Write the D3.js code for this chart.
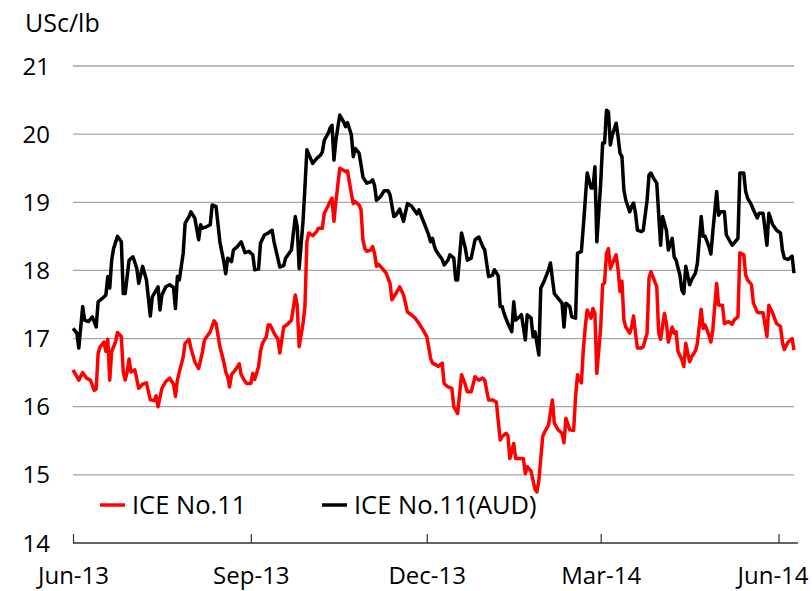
<!DOCTYPE html>
<html>
<head>
<meta charset="utf-8">
<script src="https://cdnjs.cloudflare.com/ajax/libs/d3/7.8.5/d3.min.js"></script>
<style>
  body { margin: 0; background: #fff; }
  svg { font-family: 'Open Sans', sans-serif; }
</style>
</head>
<body>
<div id="chart"></div>
<script>
// ICE No.11 in AUD terms (black)
const audDates = ['2013-06-01','2013-06-03','2013-06-04','2013-06-06','2013-06-07','2013-06-09','2013-06-11','2013-06-13','2013-06-14','2013-06-17','2013-06-18','2013-06-19','2013-06-20','2013-06-21','2013-06-22','2013-06-24','2013-06-26','2013-06-27','2013-06-28','2013-06-30',
  '2013-07-02','2013-07-04','2013-07-05','2013-07-07','2013-07-09','2013-07-11','2013-07-12','2013-07-15','2013-07-16','2013-07-17','2013-07-19','2013-07-21','2013-07-23','2013-07-24','2013-07-25','2013-07-26','2013-07-28','2013-07-29','2013-07-31',
  '2013-08-01','2013-08-03','2013-08-05','2013-08-06','2013-08-07','2013-08-09','2013-08-11','2013-08-12','2013-08-14','2013-08-16','2013-08-18','2013-08-19','2013-08-20','2013-08-22','2013-08-23','2013-08-25','2013-08-27','2013-08-29','2013-08-31',
  '2013-09-02','2013-09-03','2013-09-05','2013-09-06','2013-09-08','2013-09-10','2013-09-12','2013-09-13','2013-09-16','2013-09-18','2013-09-19','2013-09-22','2013-09-24','2013-09-25','2013-09-26','2013-09-28','2013-09-29','2013-09-30',
  '2013-10-03','2013-10-05','2013-10-07','2013-10-08','2013-10-09','2013-10-11','2013-10-12','2013-10-13','2013-10-14','2013-10-15','2013-10-17','2013-10-19','2013-10-20','2013-10-21','2013-10-23','2013-10-24','2013-10-25','2013-10-27','2013-10-28','2013-10-29','2013-10-31',
  '2013-11-02','2013-11-03','2013-11-04','2013-11-05','2013-11-07','2013-11-09','2013-11-11','2013-11-12','2013-11-14','2013-11-15','2013-11-17','2013-11-19','2013-11-21','2013-11-23','2013-11-24','2013-11-26','2013-11-27','2013-11-28','2013-11-30',
  '2013-12-02','2013-12-03','2013-12-04','2013-12-05','2013-12-06','2013-12-08','2013-12-09','2013-12-10','2013-12-12','2013-12-13','2013-12-15','2013-12-16','2013-12-17','2013-12-19','2013-12-21','2013-12-22','2013-12-24','2013-12-26','2013-12-28','2013-12-30','2013-12-31',
  '2014-01-02','2014-01-04','2014-01-05','2014-01-07','2014-01-08','2014-01-09','2014-01-10','2014-01-12','2014-01-14','2014-01-15','2014-01-16','2014-01-18','2014-01-19','2014-01-21','2014-01-22','2014-01-24','2014-01-25','2014-01-26','2014-01-28','2014-01-29','2014-01-31',
  '2014-02-02','2014-02-03','2014-02-05','2014-02-07','2014-02-09','2014-02-10','2014-02-11','2014-02-13','2014-02-14','2014-02-16','2014-02-17','2014-02-19','2014-02-20','2014-02-21','2014-02-22','2014-02-24','2014-02-25','2014-02-26','2014-02-27',
  '2014-03-01','2014-03-02','2014-03-03','2014-03-04','2014-03-05','2014-03-06','2014-03-07','2014-03-09','2014-03-10','2014-03-11','2014-03-12','2014-03-13','2014-03-14','2014-03-16','2014-03-17','2014-03-18','2014-03-19','2014-03-20','2014-03-22','2014-03-23','2014-03-25','2014-03-26','2014-03-27','2014-03-28','2014-03-30',
  '2014-04-01','2014-04-02','2014-04-04','2014-04-05','2014-04-07','2014-04-08','2014-04-09','2014-04-11','2014-04-12','2014-04-13','2014-04-14','2014-04-16','2014-04-17','2014-04-19','2014-04-20','2014-04-22','2014-04-23','2014-04-24','2014-04-26','2014-04-27','2014-04-28','2014-04-30',
  '2014-05-01','2014-05-02','2014-05-04','2014-05-05','2014-05-08','2014-05-09','2014-05-11','2014-05-12','2014-05-14','2014-05-15','2014-05-16','2014-05-18','2014-05-19','2014-05-21','2014-05-22','2014-05-24','2014-05-26','2014-05-27','2014-05-29','2014-05-31',
  '2014-06-02','2014-06-03','2014-06-04','2014-06-06','2014-06-08','2014-06-09'];
const audValues = [17.15,17.08,16.86,17.47,17.27,17.25,17.32,17.17,17.54,17.61,17.64,17.91,17.74,18.15,18.32,18.50,18.42,17.66,17.66,18.15,
  18.20,18.03,17.81,18.06,17.86,17.33,17.61,17.76,17.42,17.64,17.76,17.79,17.75,17.44,17.91,17.86,18.25,18.69,18.79,
  18.86,18.77,18.45,18.67,18.62,18.64,18.67,18.96,18.94,18.42,18.13,17.95,18.18,18.13,18.30,18.35,18.42,18.26,18.28,
  18.23,18.01,18.02,18.40,18.52,18.55,18.59,18.42,18.05,18.07,18.18,18.30,18.79,18.64,18.03,18.72,19.23,19.77,
  19.57,19.64,19.69,19.74,19.91,20.01,20.09,20.13,19.62,19.91,20.28,20.18,20.11,20.17,19.99,19.67,19.79,19.72,19.55,19.37,19.28,
  19.30,19.33,19.25,19.03,19.08,19.17,19.17,19.11,18.79,18.81,18.90,18.72,18.98,18.95,18.91,18.83,18.89,18.81,18.67,
  18.52,18.42,18.47,18.35,18.28,18.20,18.16,18.08,18.15,18.23,18.18,17.86,17.86,18.55,18.32,18.15,18.18,18.45,18.49,18.35,18.30,
  17.91,17.93,18.01,17.92,17.47,17.47,17.37,17.22,17.10,17.54,17.27,17.32,17.35,16.98,17.35,17.30,17.03,17.10,16.76,17.74,17.86,
  18.01,18.11,17.66,17.59,17.52,17.17,17.52,17.47,17.32,17.30,18.25,18.28,18.64,19.03,19.43,19.21,19.21,19.52,18.42,
  19.28,19.87,19.87,20.35,20.33,19.84,19.99,20.16,19.96,19.72,19.67,19.18,19.03,18.86,18.94,18.99,18.84,18.59,18.57,18.59,19.03,19.40,19.43,19.37,19.28,
  18.37,18.79,18.59,18.30,18.47,18.20,18.15,17.93,17.71,17.66,18.06,17.79,17.86,17.96,18.10,18.79,18.50,18.50,18.35,18.24,18.57,19.16,
  18.81,18.86,18.86,18.52,18.37,18.40,18.47,19.43,19.43,19.16,19.06,18.96,18.89,18.77,18.84,18.84,18.37,18.84,18.67,18.59,
  18.55,18.30,18.18,18.16,18.21,17.96];

// ICE No.11 in US cents (red)
const iceDates = ['2013-06-01','2013-06-03','2013-06-04','2013-06-06','2013-06-08','2013-06-10','2013-06-12','2013-06-13','2013-06-14','2013-06-15','2013-06-17','2013-06-18','2013-06-19','2013-06-20','2013-06-21','2013-06-23','2013-06-24','2013-06-26','2013-06-27','2013-06-28','2013-06-29','2013-06-30',
  '2013-07-01','2013-07-03','2013-07-05','2013-07-07','2013-07-09','2013-07-11','2013-07-13','2013-07-14','2013-07-15','2013-07-17','2013-07-19','2013-07-21','2013-07-23','2013-07-24','2013-07-25','2013-07-26','2013-07-28','2013-07-29','2013-07-31',
  '2013-08-01','2013-08-03','2013-08-05','2013-08-07','2013-08-08','2013-08-11','2013-08-13','2013-08-14','2013-08-16','2013-08-18','2013-08-19','2013-08-20','2013-08-21','2013-08-22','2013-08-24','2013-08-26','2013-08-27','2013-08-29','2013-08-30',
  '2013-09-01','2013-09-02','2013-09-03','2013-09-05','2013-09-06','2013-09-07','2013-09-09','2013-09-10','2013-09-11','2013-09-13','2013-09-15','2013-09-16','2013-09-18','2013-09-20','2013-09-22','2013-09-24','2013-09-25','2013-09-26','2013-09-28','2013-09-29','2013-09-30',
  '2013-10-01','2013-10-03','2013-10-05','2013-10-06','2013-10-08','2013-10-09','2013-10-11','2013-10-12','2013-10-13','2013-10-14','2013-10-15','2013-10-17','2013-10-19','2013-10-20','2013-10-21','2013-10-23','2013-10-24','2013-10-25','2013-10-27','2013-10-28','2013-10-29','2013-10-30','2013-10-31',
  '2013-11-02','2013-11-03','2013-11-04','2013-11-05','2013-11-06','2013-11-08','2013-11-10','2013-11-12','2013-11-13','2013-11-15','2013-11-17','2013-11-19','2013-11-20','2013-11-21','2013-11-23','2013-11-25','2013-11-27','2013-11-29',
  '2013-12-01','2013-12-02','2013-12-03','2013-12-04','2013-12-06','2013-12-07','2013-12-09','2013-12-10','2013-12-12','2013-12-14','2013-12-15','2013-12-17','2013-12-19','2013-12-21','2013-12-22','2013-12-24','2013-12-26','2013-12-28','2013-12-30','2013-12-31',
  '2014-01-02','2014-01-04','2014-01-06','2014-01-08','2014-01-09','2014-01-11','2014-01-12','2014-01-13','2014-01-15','2014-01-16','2014-01-17','2014-01-20','2014-01-21','2014-01-22','2014-01-24','2014-01-25','2014-01-26','2014-01-27','2014-01-28','2014-01-30','2014-01-31',
  '2014-02-02','2014-02-04','2014-02-05','2014-02-07','2014-02-09','2014-02-10','2014-02-11','2014-02-13','2014-02-15','2014-02-16','2014-02-17','2014-02-19','2014-02-20','2014-02-21','2014-02-22','2014-02-24','2014-02-25','2014-02-26','2014-02-27',
  '2014-03-01','2014-03-02','2014-03-03','2014-03-04','2014-03-05','2014-03-06','2014-03-07','2014-03-09','2014-03-10','2014-03-11','2014-03-12','2014-03-13','2014-03-14','2014-03-16','2014-03-17','2014-03-18','2014-03-19','2014-03-20','2014-03-22','2014-03-23','2014-03-25','2014-03-26','2014-03-27','2014-03-28','2014-03-30','2014-03-31',
  '2014-04-01','2014-04-03','2014-04-04','2014-04-05','2014-04-07','2014-04-08','2014-04-09','2014-04-10','2014-04-12','2014-04-13','2014-04-14','2014-04-16','2014-04-17','2014-04-19','2014-04-20','2014-04-22','2014-04-23','2014-04-24','2014-04-26','2014-04-27','2014-04-28','2014-04-30',
  '2014-05-01','2014-05-03','2014-05-04','2014-05-06','2014-05-08','2014-05-09','2014-05-11','2014-05-12','2014-05-14','2014-05-15','2014-05-16','2014-05-18','2014-05-19','2014-05-21','2014-05-22','2014-05-24','2014-05-26','2014-05-27','2014-05-29','2014-05-31',
  '2014-06-02','2014-06-03','2014-06-04','2014-06-06','2014-06-08','2014-06-09'];
const iceValues = [16.54,16.44,16.39,16.50,16.42,16.39,16.24,16.26,16.78,16.88,16.95,16.81,16.99,16.39,16.81,16.95,17.09,17.03,16.51,16.39,16.51,16.70,
  16.51,16.54,16.27,16.33,16.35,16.10,16.09,16.16,16.00,16.27,16.37,16.42,16.33,16.15,16.39,16.51,16.73,16.93,16.99,
  16.86,16.66,16.56,16.81,16.98,17.10,17.26,17.22,16.88,16.66,16.51,16.44,16.29,16.47,16.54,16.63,16.47,16.37,16.34,
  16.34,16.49,16.40,16.59,16.81,16.93,17.03,17.20,17.20,17.08,16.99,16.79,17.17,17.21,17.27,17.64,17.49,16.88,17.22,17.47,18.42,
  18.55,18.51,18.57,18.62,18.62,18.84,18.95,19.01,19.06,18.72,19.01,19.50,19.47,19.45,19.46,19.13,18.98,19.01,18.96,18.89,18.45,18.32,18.28,
  18.30,18.35,18.25,18.06,18.09,18.03,17.96,17.81,17.57,17.66,17.76,17.64,17.52,17.39,17.35,17.30,17.22,17.13,
  17.03,16.88,16.71,16.64,16.61,16.59,16.64,16.34,16.29,16.27,16.00,15.90,16.47,16.32,16.22,16.22,16.44,16.39,16.42,16.39,
  16.10,16.10,16.07,15.51,15.56,15.61,15.58,15.24,15.46,15.24,15.24,15.24,15.02,15.12,15.05,14.92,14.79,14.75,14.92,15.56,15.63,
  15.73,16.10,15.76,15.66,15.61,15.47,15.83,15.66,15.65,16.15,16.47,16.35,16.83,17.17,17.42,17.30,17.44,17.37,16.49,
  17.17,17.79,17.82,18.25,18.32,18.03,18.10,18.23,18.01,17.69,17.84,17.27,17.17,17.08,17.17,17.33,17.08,16.86,16.86,16.88,17.08,17.89,17.98,17.91,17.76,17.08,
  16.99,17.37,17.22,16.95,17.17,17.08,17.10,16.81,16.69,16.59,16.93,16.66,16.73,16.82,16.93,17.43,17.15,17.20,17.05,16.95,17.13,17.81,
  17.49,17.49,17.22,17.25,17.21,17.27,17.32,18.26,18.23,17.93,17.86,17.79,17.52,17.39,17.38,17.38,17.03,17.49,17.37,17.22,
  17.18,16.95,16.84,16.95,17.00,16.83];

const yTicks = [14, 15, 16, 17, 18, 19, 20, 21];
const xTickDates = ['2013-06-01', '2013-09-01', '2013-12-01', '2014-03-01', '2014-06-01'];
const seriesNames = ['ICE No.11', 'ICE No.11(AUD)'];
const seriesColors = ['#ff0000', '#000000'];

const dimensions = { width: 812, height: 591, left: 73, right: 794, top: 66, bottom: 543 };
const parseDate = d3.timeParse('%Y-%m-%d');

const svg = d3.select('#chart')
    .append('svg')
    .attr('width', dimensions.width)
    .attr('height', dimensions.height);

const x = d3.scaleTime()
    .domain([parseDate('2013-06-01'), parseDate('2014-06-09')])
    .range([dimensions.left, dimensions.right]);

const y = d3.scaleLinear()
    .domain([14, 21])
    .range([dimensions.bottom, dimensions.top]);

// gridlines
svg.append('g')
    .selectAll('line')
    .data(yTicks.filter(d => d > 14))
    .enter()
        .append('line')
        .attr('x1', dimensions.left)
        .attr('x2', dimensions.right)
        .attr('y1', d => y(d))
        .attr('y2', d => y(d))
        .attr('stroke', '#a6a6a6')
        .attr('stroke-width', 1.3);

// y labels
svg.append('g')
    .selectAll('text')
    .data(yTicks)
    .enter()
        .append('text')
        .attr('x', 50)
        .attr('y', d => y(d))
        .attr('dy', '0.36em')
        .attr('text-anchor', 'end')
        .attr('font-size', 24)
        .attr('fill', '#000')
        .text(d => d);

svg.append('text')
    .attr('x', 25)
    .attr('y', 32)
    .attr('font-size', 25)
    .attr('fill', '#000')
    .text('USc/lb');

// x axis
const xAxis = svg.append('g')
    .attr('transform', `translate(0, ${dimensions.bottom})`)
    .call(d3.axisBottom(x)
        .tickValues(xTickDates.map(parseDate))
        .tickSize(-9)
        .tickPadding(24)
        .tickFormat(d3.timeFormat('%b-%y')));

xAxis.select('.domain').remove();
xAxis.selectAll('.tick line').attr('stroke', '#333').attr('stroke-width', 1.2);
xAxis.selectAll('.tick text')
    .attr('font-size', 24)
    .attr('font-family', "'Open Sans', sans-serif")
    .attr('fill', '#000');

// keep the last month label inside the page edge
xAxis.selectAll('.tick text')
    .filter((d, i, nodes) => i === nodes.length - 1)
    .attr('dx', -6);

svg.append('line')
    .attr('x1', dimensions.left)
    .attr('x2', dimensions.right + 4)
    .attr('y1', dimensions.bottom)
    .attr('y2', dimensions.bottom)
    .attr('stroke', '#333')
    .attr('stroke-width', 1.5);

// series
const line = d3.line()
    .x(d => x(d[0]))
    .y(d => y(d[1]));

const series = [
    iceDates.map((d, i) => [parseDate(d), iceValues[i]]),
    audDates.map((d, i) => [parseDate(d), audValues[i]])
];

svg.append('g')
    .selectAll('path')
    .data(series)
    .enter()
        .append('path')
        .attr('d', line)
        .attr('fill', 'none')
        .attr('stroke', (d, i) => seriesColors[i])
        .attr('stroke-width', 3.5)
        .attr('stroke-linejoin', 'round');

// legend
const legendX = [100, 322];
const legend = svg.append('g')
    .selectAll('g')
    .data(seriesNames)
    .enter()
        .append('g')
        .attr('transform', (d, i) => `translate(${legendX[i]}, 505)`);

legend.append('line')
    .attr('x1', 0)
    .attr('x2', 25)
    .attr('stroke', (d, i) => seriesColors[i])
    .attr('stroke-width', 3.5);

legend.append('text')
    .attr('x', 32)
    .attr('dy', '0.36em')
    .attr('font-size', 25.5)
    .attr('fill', '#000')
    .text(d => d);
</script>
</body>
</html>
